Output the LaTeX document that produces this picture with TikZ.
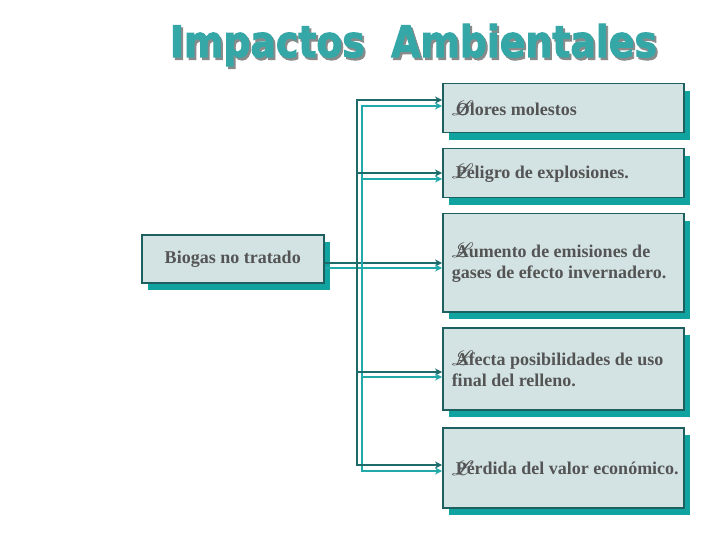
\documentclass[tikz,border=0pt]{standalone}
\usepackage{fontspec}
\usepackage{graphicx}
\usepackage{mathrsfs}
\setmainfont{Liberation Serif}
\newfontfamily\titlefont{DejaVu Sans}[BoldFeatures={FakeBold=2.5}]
\usetikzlibrary{arrows.meta,shadows}
\definecolor{boxfill}{HTML}{D3E3E3}
\definecolor{boxedge}{HTML}{1E5F5F}
\definecolor{boxshadow}{HTML}{10A39F}
\definecolor{txtgray}{HTML}{545454}
\definecolor{darkline}{HTML}{1D6B6B}
\definecolor{lightline}{HTML}{22A9A9}
\definecolor{titleteal}{HTML}{36A7A7}
\definecolor{titleshadow}{HTML}{8A8A8A}
\newcommand{\bulglyph}{\makebox[4pt][l]{\raisebox{-0.5pt}{\scalebox{1.2}{$\mathscr{L}$}}}}
\newcommand{\boxtext}[1]{\hspace*{9pt}\parbox{232pt}{\raggedright\bulglyph #1}}
\newcommand{\titletext}{\resizebox{487pt}{33pt}{\titlefont\bfseries Impactos\ \ Ambientales}}
\tikzset{
  basebox/.style={draw=boxedge, line width=1.5pt, fill=boxfill, text=txtgray,
    font=\fontsize{18}{21}\selectfont\bfseries,
    drop shadow={shadow xshift=6pt, shadow yshift=-7pt, fill=boxshadow, opacity=1},
    anchor=north west, inner sep=0pt},
  rbox/.style={basebox, minimum width=241pt},
  lbox/.style={basebox, align=center, minimum width=182pt, minimum height=48pt},
  dk/.style={draw=darkline, line width=2.6pt},
  lt/.style={draw=lightline, line width=2.6pt},
  dkarrow/.style={dk, -{Stealth[length=7pt,width=7pt]}},
  ltarrow/.style={lt, -{Stealth[length=7pt,width=7pt]}}
}
\begin{document}
\begin{tikzpicture}[x=1pt,y=-1pt]
\useasboundingbox[fill=white] (0,0) rectangle (720,540);
% title
\node[text=titleshadow, anchor=base, inner sep=0pt] (titleshd) at (415.5,59.5) {\titletext};
\node[text=titleteal, anchor=base, inner sep=0pt] (title) at (413.5,57) {\titletext};
% boxes
\node[lbox] (src) at (141,234) {Biogas no tratado};
\node[rbox, minimum height=49pt] (b1) at (442,83) {\boxtext{Olores molestos}};
\node[rbox, minimum height=49pt] (b2) at (442,148) {\boxtext{Peligro de explosiones.}};
\node[rbox, minimum height=98pt] (b3) at (442,213) {\boxtext{Aumento de emisiones de\\gases de efecto invernadero.}};
\node[rbox, minimum height=82pt] (b4) at (442,327) {\boxtext{Afecta posibilidades de uso\\final del relleno.}};
\node[rbox, minimum height=80pt] (b5) at (442,427) {\boxtext{P\'erdida del valor econ\'omico.}};
% bus coordinates
\coordinate (d1) at (357,100);
\coordinate (d2) at (357,173);
\coordinate (d3) at (357,263);
\coordinate (d4) at (357,372);
\coordinate (d5) at (357,465);
\coordinate (l1) at (362,106);
\coordinate (l2) at (362,179);
\coordinate (l3) at (362,268);
\coordinate (l4) at (362,377);
\coordinate (l5) at (362,471);
% source connectors
\draw[dkarrow] (src.east |- d3) -- (b3.west |- d3);
\draw[ltarrow] (src.east |- l3) -- (b3.west |- l3);
% vertical buses
\draw[dk, line cap=rect] (d1) -- (d5);
\draw[lt, line cap=rect] (l1) -- (l5);
% branches
\draw[dkarrow] (d1) -- (b1.west |- d1);
\draw[ltarrow] (l1) -- (b1.west |- l1);
\draw[dkarrow] (d2) -- (b2.west |- d2);
\draw[ltarrow] (l2) -- (b2.west |- l2);
\draw[dkarrow] (d4) -- (b4.west |- d4);
\draw[ltarrow] (l4) -- (b4.west |- l4);
\draw[dkarrow] (d5) -- (b5.west |- d5);
\draw[ltarrow] (l5) -- (b5.west |- l5);
\end{tikzpicture}
\end{document}
